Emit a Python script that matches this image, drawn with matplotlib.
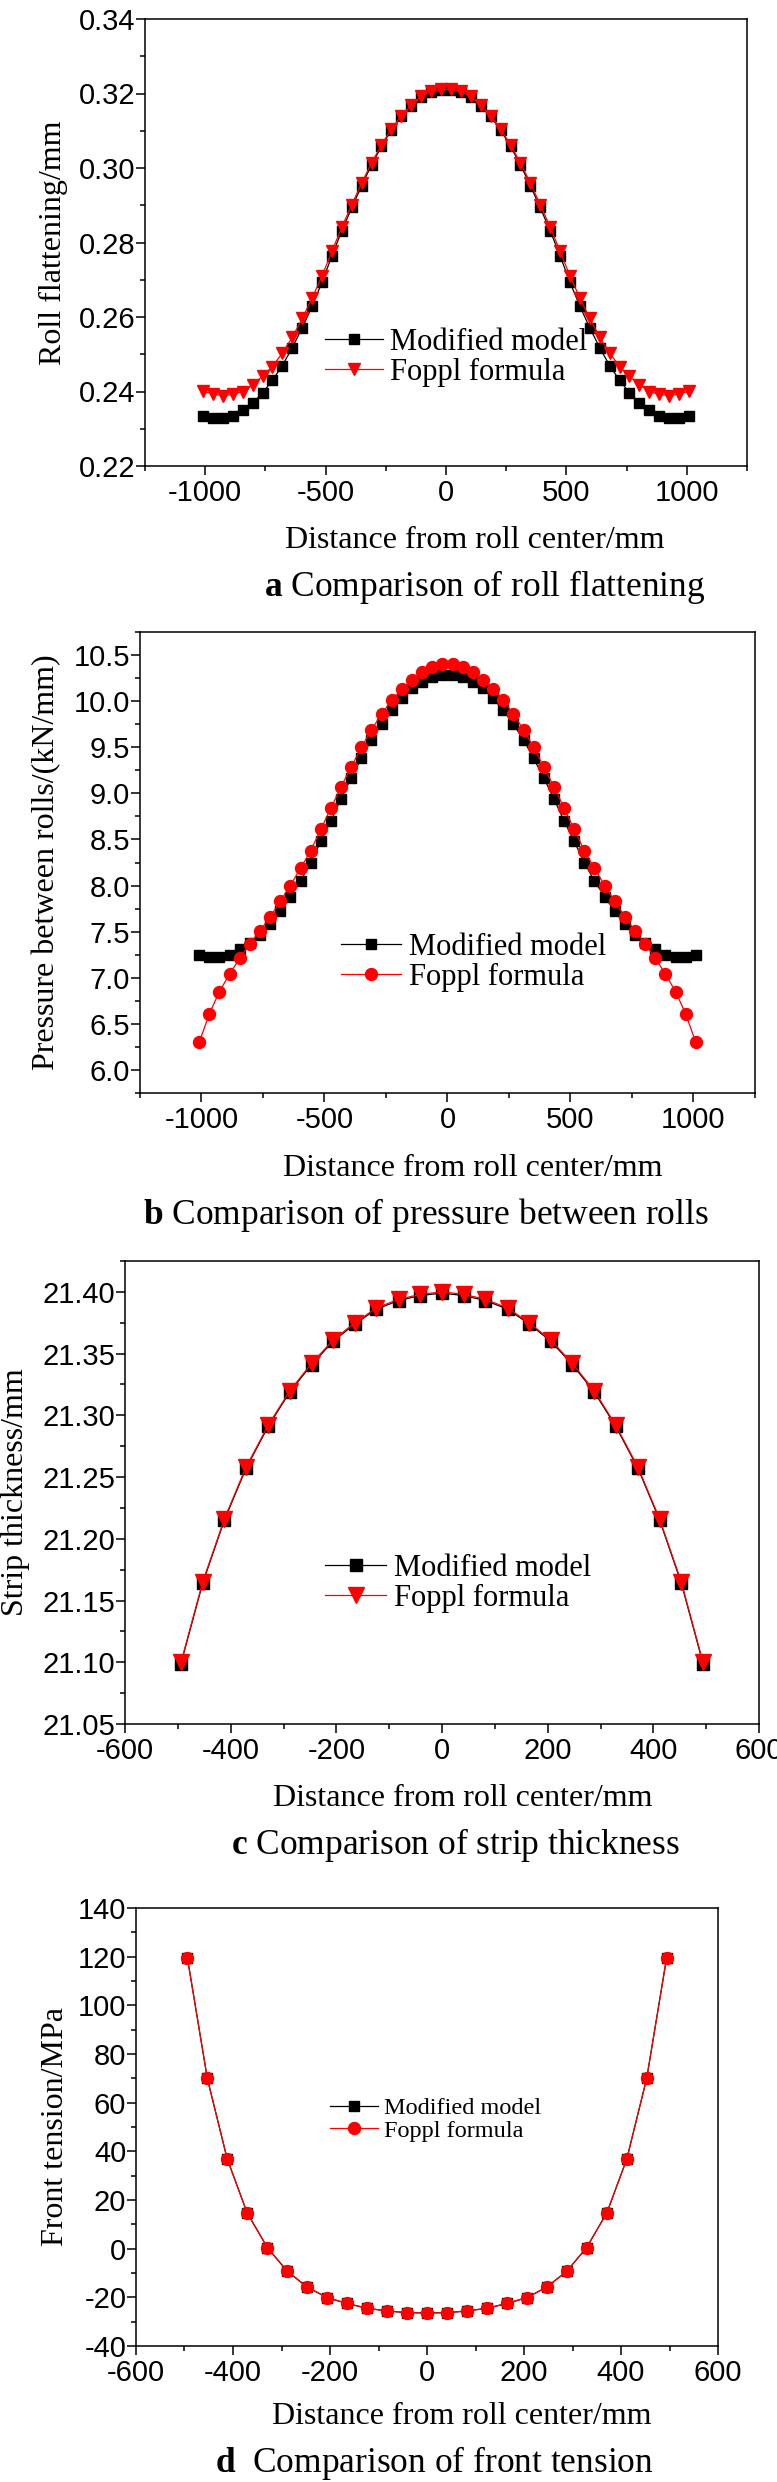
import matplotlib
matplotlib.use('Agg')
import matplotlib.pyplot as plt
from matplotlib.ticker import AutoMinorLocator, FormatStrFormatter

plt.rcParams['font.family'] = ['Liberation Sans', 'DejaVu Sans']
plt.rcParams['axes.unicode_minus'] = False
plt.rcParams['mathtext.fontset'] = 'custom'
plt.rcParams['mathtext.bf'] = 'Liberation Serif:bold'
plt.rcParams['mathtext.rm'] = 'Liberation Serif'

SERIF = ['Liberation Serif', 'DejaVu Serif']

# ---- data ----
# panels a, b : 50 points across the roll
x_ab = [-1009, -968, -927, -886, -845, -803, -762, -721, -680, -639,
        -597, -556, -515, -474, -433, -391, -350, -309, -268, -227,
        -185, -144, -103, -62, -21, 21, 62, 103, 144, 185,
        227, 268, 309, 350, 391, 433, 474, 515, 556, 597,
        639, 680, 721, 762, 803, 845, 886, 927, 968, 1009]

flat_mod = [0.2334, 0.2330, 0.2330, 0.2335, 0.2350, 0.2369, 0.2396, 0.2430, 0.2469, 0.2517,
            0.2571, 0.2629, 0.2693, 0.2764, 0.2831, 0.2894, 0.2953, 0.3009, 0.3058, 0.3102,
            0.3139, 0.3167, 0.3190, 0.3204, 0.3209, 0.3209, 0.3204, 0.3190, 0.3167, 0.3139,
            0.3102, 0.3058, 0.3009, 0.2953, 0.2894, 0.2831, 0.2764, 0.2693, 0.2629, 0.2571,
            0.2517, 0.2469, 0.2430, 0.2396, 0.2369, 0.2350, 0.2335, 0.2330, 0.2330, 0.2334]
flat_fop = [0.2401, 0.2393, 0.2389, 0.2392, 0.2400, 0.2418, 0.2441, 0.2467, 0.2503, 0.2545,
            0.2596, 0.2651, 0.2710, 0.2776, 0.2841, 0.2902, 0.2960, 0.3014, 0.3062, 0.3105,
            0.3140, 0.3169, 0.3192, 0.3206, 0.3211, 0.3211, 0.3206, 0.3192, 0.3169, 0.3140,
            0.3105, 0.3062, 0.3014, 0.2960, 0.2902, 0.2841, 0.2776, 0.2710, 0.2651, 0.2596,
            0.2545, 0.2503, 0.2467, 0.2441, 0.2418, 0.2400, 0.2392, 0.2389, 0.2393, 0.2401]

pres_mod = [7.25, 7.23, 7.23, 7.25, 7.31, 7.38, 7.46, 7.58, 7.72, 7.88,
            8.05, 8.25, 8.48, 8.70, 8.94, 9.17, 9.38, 9.58, 9.75, 9.90,
            10.03, 10.14, 10.21, 10.26, 10.28, 10.28, 10.26, 10.21, 10.14, 10.03,
            9.90, 9.75, 9.58, 9.38, 9.17, 8.94, 8.70, 8.48, 8.25, 8.05,
            7.88, 7.72, 7.58, 7.46, 7.38, 7.31, 7.25, 7.23, 7.23, 7.25]
pres_fop = [6.30, 6.61, 6.85, 7.04, 7.21, 7.37, 7.51, 7.66, 7.83, 8.00,
            8.19, 8.38, 8.61, 8.84, 9.07, 9.29, 9.50, 9.69, 9.86, 10.01,
            10.13, 10.23, 10.32, 10.37, 10.40, 10.40, 10.37, 10.32, 10.23, 10.13,
            10.01, 9.86, 9.69, 9.50, 9.29, 9.07, 8.84, 8.61, 8.38, 8.19,
            8.00, 7.83, 7.66, 7.51, 7.37, 7.21, 7.04, 6.85, 6.61, 6.30]

# panels c, d : 25 points across the strip
x_cd = [-494, -453, -412, -371, -329, -288, -247, -206, -165, -124, -82, -41, 0,
        41, 82, 124, 165, 206, 247, 288, 329, 371, 412, 453, 494]

thick_mod = [21.099, 21.164, 21.215, 21.257, 21.291, 21.319, 21.341, 21.360, 21.374, 21.386,
             21.393, 21.397, 21.399, 21.397, 21.393, 21.386, 21.374, 21.360, 21.341, 21.319,
             21.291, 21.257, 21.215, 21.164, 21.099]
thick_fop = [21.100, 21.165, 21.216, 21.258, 21.292, 21.320, 21.342, 21.361, 21.375, 21.387,
             21.394, 21.398, 21.400, 21.398, 21.394, 21.387, 21.375, 21.361, 21.342, 21.320,
             21.292, 21.258, 21.216, 21.165, 21.100]

tens_mod = [119.5, 70.0, 36.9, 14.8, 0.4, -9.3, -15.8, -20.1, -22.5, -24.5, -25.6, -26.3, -26.4,
            -26.3, -25.6, -24.5, -22.5, -20.1, -15.8, -9.3, 0.4, 14.8, 36.9, 70.0, 119.5]
tens_fop = [119.5, 70.0, 36.9, 14.8, 0.4, -9.3, -15.8, -20.1, -22.5, -24.5, -25.6, -26.3, -26.4,
            -26.3, -25.6, -24.5, -22.5, -20.1, -15.8, -9.3, 0.4, 14.8, 36.9, 70.0, 119.5]

xticks_ab = [-1000, -500, 0, 500, 1000]
xticks_cd = [-600, -400, -200, 0, 200, 400, 600]
yticks_a = [0.22, 0.24, 0.26, 0.28, 0.30, 0.32, 0.34]
yticks_b = [6.0, 6.5, 7.0, 7.5, 8.0, 8.5, 9.0, 9.5, 10.0, 10.5]
yticks_c = [21.05, 21.10, 21.15, 21.20, 21.25, 21.30, 21.35, 21.40]
yticks_d = [-40, -20, 0, 20, 40, 60, 80, 100, 120, 140]

XLABEL = 'Distance from roll center/mm'

W, H = 777, 2482
fig = plt.figure(figsize=(W / 100, H / 100), dpi=100)


def add_axes(left, top, right, bottom):
    return fig.add_axes([left / W, 1 - bottom / H, (right - left) / W, (bottom - top) / H])


def style(ax, xlim, xticks, ylim, yticks, yfmt):
    ax.set_xlim(xlim)
    ax.set_ylim(ylim)
    ax.set_xticks(xticks)
    ax.set_yticks(yticks)
    ax.xaxis.set_minor_locator(AutoMinorLocator(2))
    ax.yaxis.set_minor_locator(AutoMinorLocator(2))
    ax.yaxis.set_major_formatter(FormatStrFormatter(yfmt))
    for s in ax.spines.values():
        s.set_linewidth(1.1)
    ax.tick_params(which='both', direction='out', top=False, right=False, width=1.1,
                   labelsize=21)
    ax.tick_params(which='major', length=6.5)
    ax.tick_params(which='minor', length=3.5)
    ax.tick_params(axis='y', pad=0.5)
    ax.tick_params(axis='x', pad=3)


def labels(ax, ylabel, ylab_x, xlab_x, xlab_y):
    ax.set_xlabel(XLABEL, family=SERIF, fontsize=23, va='baseline')
    ax.xaxis.set_label_coords(xlab_x, xlab_y)
    ax.set_ylabel(ylabel, family=SERIF, fontsize=23, va='center', ha='center')
    ax.yaxis.set_label_coords(ylab_x, 0.5)


def legend(ax, left, top, size, hl, tp, ls):
    ax.legend(loc='upper left', bbox_to_anchor=(left / W, 1 - top / H),
              bbox_transform=fig.transFigure, frameon=False, borderpad=0,
              borderaxespad=0, handlelength=hl, handletextpad=tp, labelspacing=ls,
              prop={'family': SERIF, 'size': size})


def caption(text, x_center, y_base):
    fig.text(x_center / W, 1 - y_base / H, text, family=SERIF, fontsize=25.5,
             va='baseline', ha='center')


# a  roll flattening
ax = add_axes(145, 19, 747, 466)
ax.plot(x_ab, flat_mod, '-s', color='black', lw=0.9, ms=7.2, label='Modified model')
ax.plot(x_ab, flat_fop, '-v', color='red', lw=0.9, ms=8.6, label='Foppl formula')
style(ax, (-1250, 1250), xticks_ab, (0.22, 0.34), yticks_a, '%.2f')
labels(ax, 'Roll flattening/mm', -0.1528, 0.548, -0.1826)
legend(ax, 325, 328, 22, 1.9, 0.23, 0.03)
caption(r'$\mathbf{a}$ Comparison of roll flattening', 485, 596)

# b  pressure between rolls
ax = add_axes(140, 632, 755, 1093)
ax.plot(x_ab, pres_mod, '-s', color='black', lw=0.9, ms=7.2, label='Modified model')
ax.plot(x_ab, pres_fop, '-o', color='red', lw=0.9, ms=8.6, label='Foppl formula')
style(ax, (-1250, 1250), xticks_ab, (5.75, 10.75), yticks_b, '%.1f')
labels(ax, 'Pressure between rolls/(kN/mm)', -0.1512, 0.5415, -0.180)
legend(ax, 341, 933, 22, 1.97, 0.27, 0.03)
caption(r'$\mathbf{b}$ Comparison of pressure between rolls', 426, 1224)

# c  strip thickness
ax = add_axes(125, 1261, 759, 1724)
ax.plot(x_cd, thick_mod, '-s', color='black', lw=0.9, ms=8, label='Modified model')
ax.plot(x_cd, thick_fop, '-v', color='red', lw=0.9, ms=11, label='Foppl formula')
style(ax, (-600, 600), xticks_cd, (21.05, 21.425), yticks_c, '%.2f')
labels(ax, 'Strip thickness/mm', -0.1735, 0.533, -0.177)
legend(ax, 325, 1554, 22, 2.0, 0.26, 0.03)
caption(r'$\mathbf{c}$ Comparison of strip thickness', 455, 1854)

# d  front tension
ax = add_axes(136, 1908, 718, 2346)
ax.plot(x_cd, tens_mod, '-s', color='black', lw=0.9, ms=7.2, label='Modified model')
ax.plot(x_cd, tens_fop, '-o', color='red', lw=0.9, ms=8.6, label='Foppl formula')
style(ax, (-600, 600), xticks_cd, (-40, 140), yticks_d, '%d')
labels(ax, 'Front tension/MPa', -0.1375, 0.560, -0.178)
legend(ax, 330, 2097, 17.5, 1.98, 0.25, 0.02)
caption(r'$\mathbf{d}$  Comparison of front tension', 434, 2472)

fig.savefig('out.png', dpi=100)
